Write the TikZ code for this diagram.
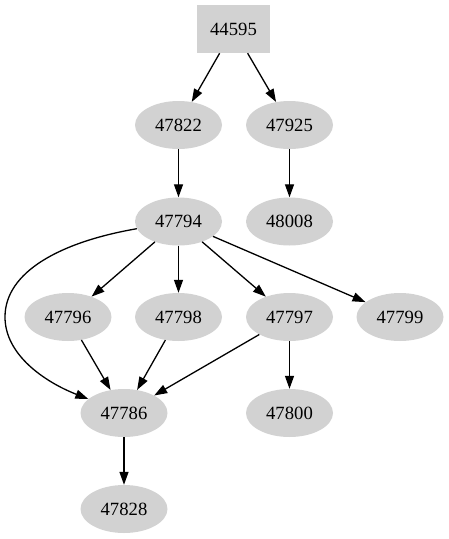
\documentclass[tikz,border=0pt]{standalone}
\usepackage{fontspec}
\setmainfont{Liberation Serif}
\usetikzlibrary{shapes.geometric,arrows.meta}

\tikzset{
    vertex/.style = {ellipse, fill=lightgray!70, minimum width=87pt, minimum height=48pt, inner sep=0pt, font=\fontsize{18.67}{20}\selectfont},
    root/.style = {rectangle, fill=lightgray!70, minimum width=73pt, minimum height=48pt, inner sep=0pt, font=\fontsize{18.67}{20}\selectfont},
    edge/.style = {line width=1.3pt, -{Triangle[length=13pt, width=9pt]}}
}

\begin{document}
\begin{tikzpicture}[x=1pt, y=-1pt]
    
    \useasboundingbox (0,0) rectangle (449,539);
    
    % Nodes
    \node[root]   (n44595) at (233.5,29)  {44595};
    \node[vertex] (n47822) at (178.5,125) {47822};
    \node[vertex] (n47925) at (289.5,125) {47925};
    \node[vertex] (n47794) at (178.5,221.5) {47794};
    \node[vertex] (n48008) at (289.5,221.5) {48008};
    \node[vertex] (n47796) at (68,317)    {47796};
    \node[vertex] (n47798) at (178.5,317) {47798};
    \node[vertex] (n47797) at (289.5,317) {47797};
    \node[vertex] (n47799) at (400,317)   {47799};
    \node[vertex] (n47786) at (124,413)   {47786};
    \node[vertex] (n47800) at (289.5,413) {47800};
    \node[vertex] (n47828) at (124,509)   {47828};
    
    % Edges
    \draw[edge] (n44595) -- (n47822);
    \draw[edge] (n44595) -- (n47925);
    \draw[edge] (n47822) -- (n47794);
    \draw[edge] (n47925) -- (n48008);
    \draw[edge] (n47794) -- (n47796);
    \draw[edge] (n47794) -- (n47798);
    \draw[edge] (n47794) -- (n47797);
    \draw[edge] (n47794) -- (n47799);
    \draw[edge] (n47796) -- (n47786);
    \draw[edge] (n47798) -- (n47786);
    \draw[edge] (n47797) -- (n47786);
    \draw[edge] (n47797) -- (n47800);
    \draw[edge] (n47786) -- (n47828);
    
    % Long edge round the left
    \coordinate (bend) at (5,317);
    \draw[edge] (n47794) .. controls (60,242) and (5,272) .. (bend)
        .. controls (5,355) and (45,382) .. (n47786);
    
\end{tikzpicture}
\end{document}
